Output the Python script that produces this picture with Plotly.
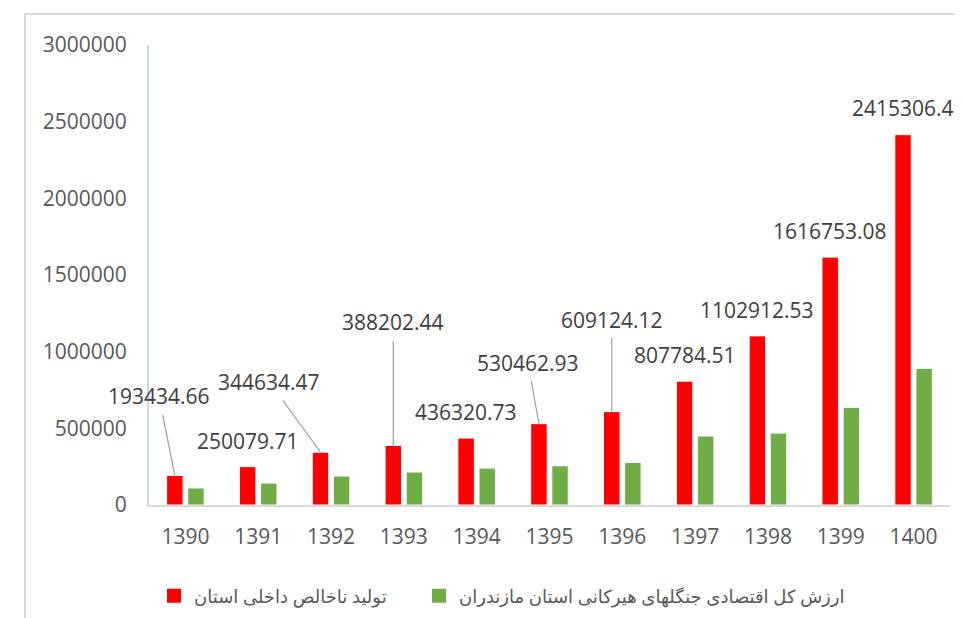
import plotly.graph_objects as go

# ---- data ----
years = ["1390", "1391", "1392", "1393", "1394", "1395", "1396", "1397", "1398", "1399", "1400"]
gdp_province = [193434.66, 250079.71, 344634.47, 388202.44, 436320.73, 530462.93,
                609124.12, 807784.51, 1102912.53, 1616753.08, 2415306.4]
hyrcanian_value = [111000, 143000, 189000, 215000, 241000, 256000,
                   278000, 450000, 469000, 637000, 891000]
name_gdp = "تولید ناخالص داخلی استان"
name_forest = "ارزش کل اقتصادی جنگلهای هیرکانی استان مازندران"
y_ticks = [0, 500000, 1000000, 1500000, 2000000, 2500000, 3000000]

# ---- label placement (pixel offsets of text from bar top; leader line shown?) ----
label_offsets = [(-16, -79, True), (0, -26, False), (-51, -70, True), (0, -123, True),
                 (0, -26, False), (-11, -61, True), (0, -92, True), (0, -26, False),
                 (0, -26, False), (0, -26, False), (0, -27, False)]

RED = "#FF0000"
GREEN = "#70AD47"
BARGAP = 0.42
BARGROUPGAP = 0.22
FONT = "Open Sans, DejaVu Sans, sans-serif"

fig = go.Figure()
fig.add_trace(go.Bar(x=years, y=gdp_province, name=name_gdp, showlegend=False,
                     marker=dict(color=RED, line=dict(color="white", width=1))))
fig.add_trace(go.Bar(x=years, y=hyrcanian_value, name=name_forest, showlegend=False,
                     marker=dict(color=GREEN, line=dict(color="white", width=1))))
# legend entries (square keys)
for nm, col, lw in [(name_gdp, RED, 220), (name_forest, GREEN, 440)]:
    fig.add_trace(go.Scatter(x=[None], y=[None], mode="markers", name=nm, legendwidth=lw,
                             marker=dict(symbol="square", size=14, color=col)))

annotations = []
for i, (v, (ax, ay, line)) in enumerate(zip(gdp_province, label_offsets)):
    annotations.append(dict(
        x=i - (1 - BARGAP) / 4, y=v, xref="x", yref="y",
        text=str(v), showarrow=True, arrowhead=0, ax=ax, ay=ay,
        arrowwidth=1.3,
        arrowcolor="#a6a6a6" if line else "rgba(0,0,0,0)",
        font=dict(family=FONT, size=21, color="#404040"),
        standoff=0, borderpad=4,
    ))

# page body has an 8px margin: screen px = figure px + 8
OFF = 8
W, H = 955, 610
L, R, T, B = 141, 13, 37, 113
pw, ph = W - L - R, H - T - B

def px_x(p):
    return (p - OFF - L) / pw

def px_y(p):
    return (H - B - (p - OFF)) / ph

shapes = [dict(type="rect", xref="paper", yref="paper",
               x0=px_x(25), x1=px_x(1000), y0=px_y(660), y1=px_y(14),
               line=dict(color="#d9d9d9", width=2), fillcolor="rgba(0,0,0,0)", layer="below")]

fig.update_layout(
    width=W, height=H,
    margin=dict(l=L, r=R, t=T, b=B, pad=0, autoexpand=False),
    paper_bgcolor="white", plot_bgcolor="white",
    barmode="group", bargap=BARGAP, bargroupgap=BARGROUPGAP,
    font=dict(family=FONT, size=21, color="#595959"),
    showlegend=True,
    legend=dict(orientation="h", x=px_x(154), xanchor="left", y=px_y(596), yanchor="middle",
                itemclick=False,
                font=dict(family=FONT, size=18, color="#595959"), bgcolor="rgba(0,0,0,0)"),
    annotations=annotations,
    shapes=shapes,
)
fig.update_xaxes(type="category", range=[-0.5, len(years) - 0.5], automargin=False,
                 showline=True, linecolor="#d9d9d9", linewidth=2,
                 showgrid=False, ticks="", ticklabelstandoff=12,
                 tickfont=dict(family=FONT, size=21, color="#595959"))
fig.update_yaxes(range=[0, 3000000], tickvals=y_ticks, ticktext=[str(t) for t in y_ticks],
                 automargin=False,
                 showline=True, linecolor="#c9d6ee", linewidth=2, showgrid=False, zeroline=False,
                 ticks="", ticklabelstandoff=16,
                 tickfont=dict(family=FONT, size=21, color="#595959"))

fig.write_html("out.html")
